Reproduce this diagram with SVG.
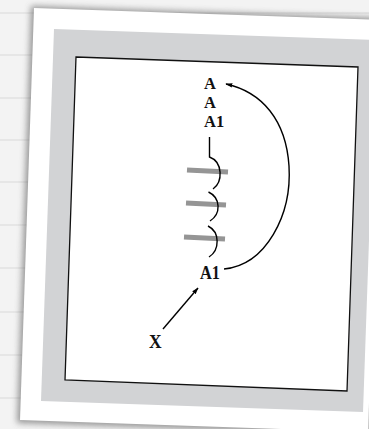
<svg xmlns="http://www.w3.org/2000/svg" width="369" height="429" viewBox="0 0 369 429">
  <defs>
    <filter id="shadow" x="-10%" y="-10%" width="120%" height="120%">
      <feGaussianBlur stdDeviation="3"/>
    </filter>
    <marker id="arrow" viewBox="0 0 10 8" refX="9" refY="4" markerWidth="7" markerHeight="6" orient="auto" markerUnits="userSpaceOnUse">
      <path d="M0,0.8 L10,4 L0,7.2 Z" fill="#000"/>
    </marker>
    <style>
      .lbl { font-family: "Liberation Serif", "Times New Roman", serif; font-weight: bold; font-size: 16.5px; fill: #111; }
      .big { font-size: 19px; }
      .wire { fill: none; stroke: #000; stroke-width: 1.4; }
      .bar { stroke: #959595; stroke-width: 5; }
      .rule { stroke: #e2e2e2; stroke-width: 1.5; }
    </style>
  </defs>

  <!-- lined paper background -->
  <rect x="0" y="0" width="369" height="429" fill="#f3f3f3"/>
  <g id="paper-lines">
    <line class="rule" x1="0" y1="13" x2="369" y2="13"/>
    <line class="rule" x1="0" y1="55" x2="369" y2="55"/>
    <line class="rule" x1="0" y1="98" x2="369" y2="98"/>
    <line class="rule" x1="0" y1="140" x2="369" y2="140"/>
    <line class="rule" x1="0" y1="182" x2="369" y2="182"/>
    <line class="rule" x1="0" y1="225" x2="369" y2="225"/>
    <line class="rule" x1="0" y1="268" x2="369" y2="268"/>
    <line class="rule" x1="0" y1="312" x2="369" y2="312"/>
    <line class="rule" x1="0" y1="355" x2="369" y2="355"/>
    <line class="rule" x1="0" y1="398" x2="369" y2="398"/>
  </g>

  <!-- card -->
  <g id="card">
    <polygon points="31,6 383,18 369,435 17,423" fill="#5a5a5a" opacity="0.6" filter="url(#shadow)"/>
    <polygon points="34,8 382,20 368,432 20,420" fill="#ffffff"/>
    <polygon points="54,29 376,40 363,412 41,401" fill="#d2d3d5"/>
    <polygon points="76,57 358,67 347,391 65,380" fill="#ffffff" stroke="#111" stroke-width="1.3"/>
  </g>

  <!-- nodes -->
  <g id="node-A-top"><text class="lbl" x="204" y="89">A</text></g>
  <g id="node-A-mid"><text class="lbl" x="204" y="108">A</text></g>
  <g id="node-A1-top"><text class="lbl" x="204" y="127">A1</text></g>
  <g id="node-A1-bottom"><text class="lbl big" transform="translate(200,279) scale(0.86,1)">A1</text></g>
  <g id="node-X"><text class="lbl big" transform="translate(149,348) scale(0.92,1)">X</text></g>

  <g id="bars">
    <line class="bar" x1="187" y1="170" x2="228" y2="172"/>
    <line class="bar" x1="186" y1="203" x2="226" y2="205"/>
    <line class="bar" x1="184" y1="237" x2="225" y2="239"/>
  </g>

  <!-- connectors -->
  <g id="connectors">
    <path class="wire" d="M209.5,137 L209.5,157 C223,162 223,182 213,189"/>
    <path class="wire" d="M208.5,192 C221,198 221,214 210,221"/>
    <path class="wire" d="M208,226 C220,232 220,250 209,257"/>
    <path class="wire" d="M224,269 C266,265 292,215 289,166 C286,120 262,92 226,84" marker-end="url(#arrow)"/>
    <path class="wire" d="M163,329 L198,288" marker-end="url(#arrow)"/>
  </g>
</svg>
